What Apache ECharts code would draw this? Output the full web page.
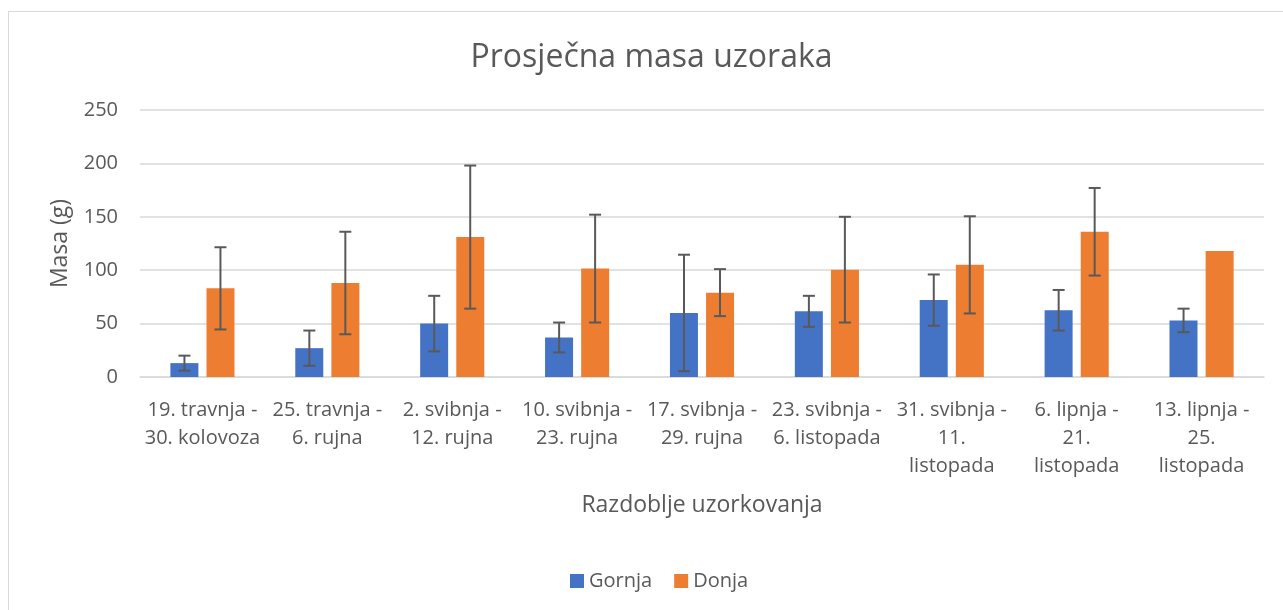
<!DOCTYPE html>
<html>
<head>
<meta charset="utf-8">
<title>Prosječna masa uzoraka</title>
<script src="https://cdn.jsdelivr.net/npm/echarts@6/dist/echarts.min.js"></script>
<style>
  html, body { margin: 0; padding: 0; background: #fff; overflow: hidden; }
  .frame { position: absolute; left: 8px; top: 11px; width: 1320px; height: 700px; border: 1px solid #d9d9d9; }
  #chart { position: absolute; left: 0; top: 0; width: 1303px; height: 610px; }
</style>
</head>
<body>
<div class="frame"></div>
<div id="chart"></div>
<script>
const categories = [
  '19. travnja -\n30. kolovoza',
  '25. travnja -\n6. rujna',
  '2. svibnja -\n12. rujna',
  '10. svibnja -\n23. rujna',
  '17. svibnja -\n29. rujna',
  '23. svibnja -\n6. listopada',
  '31. svibnja -\n11.\nlistopada',
  '6. lipnja -\n21.\nlistopada',
  '13. lipnja -\n25.\nlistopada'
]
const gornja = [13, 27, 50, 37, 60, 61.5, 72, 62.5, 53]
const gornjaErr = [7, 16.5, 26, 14, 54.5, 14.5, 24, 19, 11]
const donja = [83, 88, 131, 101.5, 79, 100.5, 105, 136, 118]
const donjaErr = [38.5, 48, 67, 50.5, 22, 49.5, 45.5, 41, null]

const textColor = '#595959'
const fontFamily = '"Open Sans", "Noto Sans", sans-serif'
const barWidth = 28
const barOffset = 18 // pomak središta stupca od središta kategorije

// podaci za error bar: [indeks, donja granica, gornja granica]
function errData (values, errs) {
  return values.map((v, i) => {
    if (errs[i] == null) return [i, null, null]
    return [i, v - errs[i], v + errs[i]]
  })
}

function errorBarSeries (name, values, errs, offset) {
  return {
    type: 'custom',
    name: name + ' err',
    z: 10,
    silent: true,
    renderItem (params, api) {
      const low = api.value(1)
      const high = api.value(2)
      if (low == null || isNaN(low)) return
      const top = api.coord([api.value(0), high])
      const bottom = api.coord([api.value(0), low])
      const x = top[0] + offset
      const cap = 6
      const style = { stroke: '#595959', lineWidth: 2 }
      return {
        type: 'group',
        children: [
          { type: 'line', shape: { x1: x, y1: top[1], x2: x, y2: bottom[1] }, style },
          { type: 'line', shape: { x1: x - cap, y1: top[1], x2: x + cap, y2: top[1] }, style },
          { type: 'line', shape: { x1: x - cap, y1: bottom[1], x2: x + cap, y2: bottom[1] }, style }
        ]
      }
    },
    encode: { x: 0, y: [1, 2] },
    data: errData(values, errs)
  }
}

const chart = echarts.init(document.getElementById('chart'))

const option = {
  animation: false,
  textStyle: { fontFamily },
  title: {
    text: 'Prosječna masa uzoraka',
    left: 'center',
    top: 37,
    textStyle: { fontSize: 32, fontWeight: 'normal', color: textColor, fontFamily }
  },
  legend: {
    data: ['Gornja', 'Donja'],
    top: 566,
    left: 565,
    icon: 'rect',
    itemWidth: 14,
    itemHeight: 14,
    itemGap: 22,
    textStyle: { fontSize: 20, color: textColor, fontFamily }
  },
  grid: { left: 140, right: 39, top: 110, bottom: 233 },
  xAxis: {
    type: 'category',
    data: categories,
    name: 'Razdoblje uzorkovanja',
    nameLocation: 'middle',
    nameGap: 117,
    nameTextStyle: { fontSize: 23, color: textColor, fontFamily },
    axisLine: { lineStyle: { color: '#d9d9d9', width: 1.5 } },
    axisTick: { show: false },
    axisLabel: { fontSize: 20, color: textColor, lineHeight: 28, margin: 19, interval: 0, fontFamily }
  },
  yAxis: {
    type: 'value',
    min: 0,
    max: 250,
    interval: 50,
    name: 'Masa (g)',
    nameLocation: 'middle',
    nameGap: 68,
    nameRotate: 90,
    nameTextStyle: { fontSize: 23, color: textColor, fontFamily },
    axisLine: { show: false },
    axisTick: { show: false },
    axisLabel: { fontSize: 20, color: textColor, margin: 22, fontFamily },
    splitLine: { lineStyle: { color: '#d9d9d9', width: 1.5 } }
  },
  series: [
    {
      name: 'Gornja',
      type: 'bar',
      data: gornja,
      barWidth,
      barGap: '29%',
      itemStyle: { color: '#4472c4' }
    },
    {
      name: 'Donja',
      type: 'bar',
      data: donja,
      barWidth,
      itemStyle: { color: '#ed7d31' }
    },
    errorBarSeries('Gornja', gornja, gornjaErr, -barOffset),
    errorBarSeries('Donja', donja, donjaErr, barOffset)
  ]
}

chart.setOption(option)
</script>
</body>
</html>
